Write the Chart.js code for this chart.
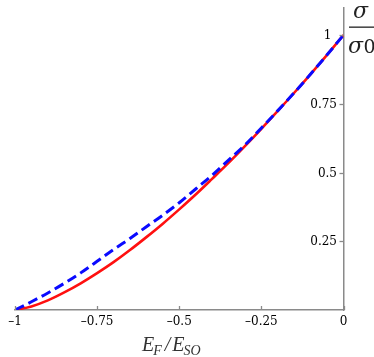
<!DOCTYPE html>
<html>
<head>
<meta charset="utf-8">
<script src="https://cdn.jsdelivr.net/npm/chart.js@4"></script>
<style>
  html, body { margin: 0; padding: 0; background: #fff; }
  #c { display: block; }
</style>
</head>
<body>
<canvas id="c" width="374" height="357"></canvas>
<script>
// E_F / E_SO values
const energy = [-1, -0.95, -0.9, -0.85, -0.8, -0.75, -0.7, -0.65, -0.6, -0.55, -0.5,
                -0.45, -0.4, -0.35, -0.3, -0.25, -0.2, -0.15, -0.1, -0.05, 0];
// red solid curve
const sigmaRed = [0, 0.013, 0.035, 0.064, 0.097, 0.134, 0.174, 0.218, 0.265, 0.314, 0.366,
                  0.42, 0.477, 0.535, 0.596, 0.659, 0.724, 0.79, 0.858, 0.928, 1.0];
// blue dashed curve
const sigmaBlue = [0, 0.03, 0.062, 0.097, 0.135, 0.177, 0.22, 0.26, 0.303, 0.345, 0.39,
                   0.44, 0.49, 0.545, 0.60, 0.662, 0.725, 0.79, 0.858, 0.928, 1.0];

const xTicks = [-1, -0.75, -0.5, -0.25, 0];
const xTickLabels = ['\u20131', '\u20130.75', '\u20130.5', '\u20130.25', '0'];
const yTicks = [0.25, 0.5, 0.75, 1];
const yTickLabels = ['0.25', '0.5', '0.75', '1'];

const axisGray = '#8a8a8a';
const serif = '"Liberation Serif", "DejaVu Serif", serif';
const tickFont = '"DejaVu Serif", serif';

// inward tick marks, y labels left of the axis, axis titles
const extras = {
  id: 'extras',
  afterDraw(chart) {
    const ctx = chart.ctx;
    const xs = chart.scales.x, ys = chart.scales.y;
    const area = chart.chartArea;
    ctx.save();
    ctx.strokeStyle = axisGray;
    ctx.lineWidth = 1.3;
    xTicks.forEach(v => {
      const px = Math.round(xs.getPixelForValue(v)) + 0.5;
      ctx.beginPath();
      ctx.moveTo(px, area.bottom);
      ctx.lineTo(px, area.bottom - 4);
      ctx.stroke();
    });
    ctx.fillStyle = '#000';
    ctx.font = '12px ' + tickFont;
    ctx.textAlign = 'right';
    ctx.textBaseline = 'middle';
    yTicks.forEach((v, i) => {
      const py = Math.round(ys.getPixelForValue(v)) + 0.5;
      ctx.beginPath();
      ctx.moveTo(area.right, py);
      ctx.lineTo(area.right - 4, py);
      ctx.stroke();
      // the top label sits a bit further from the axis, as in the original
      const gap = v === 1 ? 12 : 6.5;
      ctx.fillText(yTickLabels[i], area.right - gap, py);
    });

    // x title  E_F / E_SO
    ctx.fillStyle = '#333';
    ctx.textBaseline = 'alphabetic';
    ctx.textAlign = 'left';
    const base = 351;
    let x = 142;
    const big = 'italic 20px ' + serif;
    const small = 'italic 14px ' + serif;
    ctx.font = big; ctx.fillText('E', x, base); x += ctx.measureText('E').width;
    ctx.font = small; ctx.fillText('F', x - 1, base + 4); x += ctx.measureText('F').width + 2;
    ctx.font = big; ctx.fillText('/', x, base); x += ctx.measureText('/').width + 2;
    ctx.fillText('E', x, base); x += ctx.measureText('E').width - 1;
    ctx.font = small; ctx.fillText('SO', x, base + 4);

    // sigma / sigma_0
    ctx.fillStyle = '#222';
    ctx.font = 'italic 22px "DejaVu Serif", serif';
    ctx.fillText('\u03c3', 353, 18);
    ctx.fillRect(349, 26.5, 25, 1.3);
    ctx.fillText('\u03c3', 348, 53);
    ctx.font = '19px "DejaVu Serif", serif';
    ctx.fillText('0', 363.5, 53);
    ctx.restore();
  }
};

new Chart(document.getElementById('c'), {
  type: 'line',
  data: {
    datasets: [
      {
        label: 'red',
        data: energy.map((e, i) => ({ x: e, y: sigmaRed[i] })),
        borderColor: '#ff1010',
        borderWidth: 2.6,
        pointRadius: 0,
        cubicInterpolationMode: 'monotone',
        order: 1
      },
      {
        label: 'blue',
        data: energy.map((e, i) => ({ x: e, y: sigmaBlue[i] })),
        borderColor: '#0a0aff',
        borderWidth: 3,
        borderDash: [10, 5],
        pointRadius: 0,
        cubicInterpolationMode: 'monotone',
        order: 0
      }
    ]
  },
  options: {
    responsive: false,
    animation: false,
    layout: { padding: { left: 15, right: 30.5, top: 7.5, bottom: 22.6 } },
    plugins: { legend: { display: false }, tooltip: { enabled: false } },
    scales: {
      x: {
        type: 'linear',
        min: -1,
        max: 0,
        afterBuildTicks: s => { s.ticks = xTicks.map(v => ({ value: v })); },
        ticks: {
          autoSkip: false,
          maxRotation: 0,
          padding: 5,
          color: '#000',
          font: { family: tickFont, size: 12 },
          callback: v => xTickLabels[xTicks.indexOf(v)]
        },
        grid: { drawOnChartArea: false, drawTicks: false },
        border: { color: axisGray, width: 1.5 }
      },
      y: {
        type: 'linear',
        position: 'right',
        min: 0,
        max: 1.1,
        afterBuildTicks: s => { s.ticks = yTicks.map(v => ({ value: v })); },
        ticks: { display: false },
        grid: { drawOnChartArea: false, drawTicks: false },
        border: { color: axisGray, width: 1.5 }
      }
    }
  },
  plugins: [extras]
});
</script>
</body>
</html>
